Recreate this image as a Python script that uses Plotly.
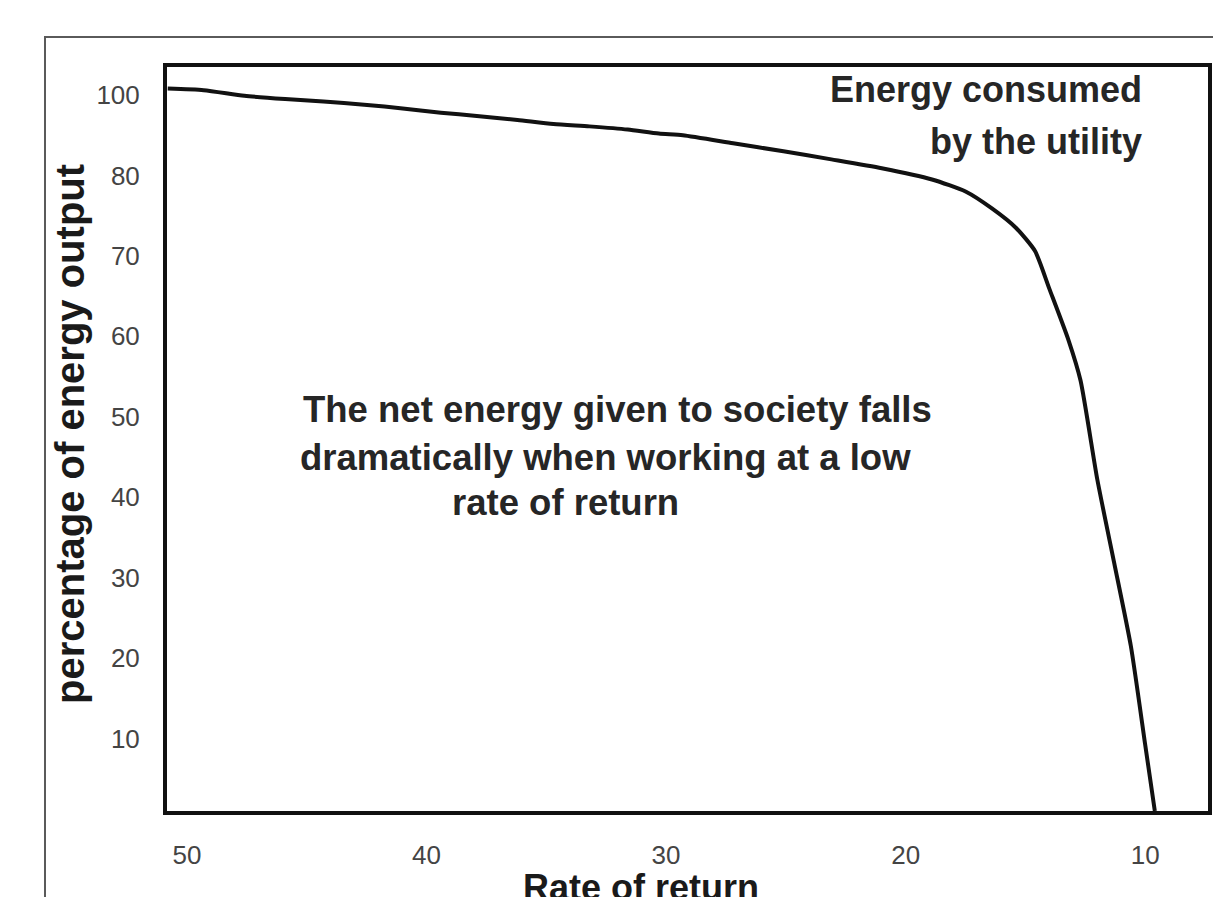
import plotly.graph_objects as go

# Rate of return (x) and percentage of energy output (y)
rate_of_return = [50.8, 49.3, 47.6, 45.9, 44.3, 42.6, 40.9, 39.4, 37.9, 36.2, 34.7,
                  33.2, 31.6, 30.3, 29.3, 27.2, 25.1, 23.1, 21.0, 18.9, 17.5, 16.4,
                  15.4, 14.6, 14.0, 13.2, 12.7, 12.0, 11.3, 10.6, 10.0, 9.6]
energy_pct = [90.8, 90.6, 89.9, 89.5, 89.2, 88.8, 88.3, 87.8, 87.4, 86.9, 86.4,
              86.1, 85.7, 85.2, 85.0, 84.0, 83.0, 82.0, 80.9, 79.5, 78.0, 75.9,
              73.5, 70.6, 65.9, 59.5, 54.5, 42.2, 31.9, 21.5, 9.2, 1.0]

x_tick_vals = [50, 40, 30, 20, 10]
x_tick_text = ["50", "40", "30", "20", "10"]
y_tick_vals = [10, 20, 30, 40, 50, 60, 70, 80, 90]
y_tick_text = ["10", "20", "30", "40", "50", "60", "70", "80", "100"]

annotation_lines = [
    ("Energy consumed", 0.9385, 0.9691, "right", 36),
    ("by the utility", 0.9385, 0.8992, "right", 36),
    ("The net energy given to society falls", 0.1287, 0.5390, "left", 36.5),
    ("dramatically when working at a low", 0.1258, 0.4758, "left", 36.5),
    ("rate of return", 0.2719, 0.4153, "left", 36.5),
]
x_title = "Rate of return"
y_title = "percentage of energy output"

FONT = "Liberation Sans, Arial, Helvetica, sans-serif"

fig = go.Figure()
fig.add_trace(go.Scatter(
    x=rate_of_return, y=energy_pct, mode="lines",
    line=dict(color="#111111", width=4, shape="spline", smoothing=0.6),
    hoverinfo="skip", showlegend=False,
))

annotations = []
for text, ax, ay, anchor, size in annotation_lines:
    annotations.append(dict(
        text=text, x=ax, y=ay, xref="paper", yref="paper",
        xanchor=anchor, yanchor="middle", showarrow=False, align=anchor,
        font=dict(family=FONT, size=size, color="#262626", weight="bold"),
    ))
annotations.append(dict(
    text=x_title, x=0.4553, y=-0.1028, xref="paper", yref="paper",
    xanchor="center", yanchor="middle", showarrow=False,
    font=dict(family=FONT, size=36, color="#1a1a1a", weight="bold"),
))
annotations.append(dict(
    text=y_title, x=-0.0932, y=0.5067, xref="paper", yref="paper",
    xanchor="center", yanchor="middle", showarrow=False, textangle=-90,
    font=dict(family=FONT, size=40, color="#1a1a1a", weight="bold"),
))

fig.update_layout(
    width=1221, height=897,
    margin=dict(l=159, r=21, t=59, b=94),
    paper_bgcolor="white", plot_bgcolor="white",
    annotations=annotations,
    shapes=[dict(type="rect", xref="paper", yref="paper",
                 x0=-0.1172, x1=1.05, y0=-0.25, y1=1.0403,
                 line=dict(color="#5a5a5a", width=2), layer="below")],
)
fig.update_xaxes(
    range=[50.83, 7.38], tickvals=x_tick_vals, ticktext=x_tick_text,
    showgrid=False, zeroline=False,
    showline=True, mirror=True, linecolor="#111111", linewidth=4,
    ticks="outside", ticklen=18, tickcolor="rgba(0,0,0,0)",
    tickfont=dict(family=FONT, size=26, color="#444444"),
)
fig.update_yaxes(
    range=[0.99, 93.48], tickvals=y_tick_vals, ticktext=y_tick_text,
    showgrid=False, zeroline=False,
    showline=True, mirror=True, linecolor="#111111", linewidth=4,
    ticks="outside", ticklen=18, tickcolor="rgba(0,0,0,0)",
    tickfont=dict(family=FONT, size=26, color="#444444"),
)

fig.write_html("out.html")
